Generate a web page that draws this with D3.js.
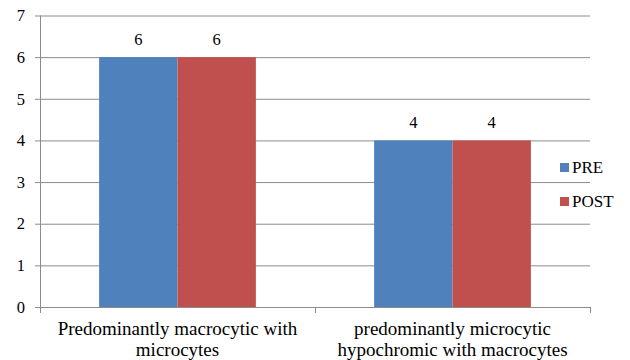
<!DOCTYPE html>
<html>
<head>
<meta charset="utf-8">
<script src="https://cdn.jsdelivr.net/npm/d3@7"></script>
<style>
  html, body { margin: 0; padding: 0; background: #fff; }
</style>
</head>
<body>
<svg id="chart" width="630" height="360"></svg>
<script>
// Blood picture categories and counts before / after treatment
const categories = [
  ["Predominantly macrocytic with", "microcytes"],
  ["predominantly microcytic", "hypochromic with macrocytes"]
];
const seriesNames = ["PRE", "POST"];
const preValues = [6, 4];
const postValues = [6, 4];
const yTicks = [0, 1, 2, 3, 4, 5, 6, 7];

const colors = ["#4F81BD", "#C0504D"];
const seriesValues = [preValues, postValues];
const FONT = "Liberation Serif";

const svg = d3.select("#chart");
const margin = { left: 40, top: 15.5 };
const plotRight = 590;
const plotBottom = 307;

const x0 = d3.scaleBand()
  .domain(d3.range(categories.length))
  .range([margin.left, plotRight])
  .paddingInner(0.43)
  .paddingOuter(0.215);

const x1 = d3.scaleBand()
  .domain(d3.range(seriesNames.length))
  .range([0, x0.bandwidth()])
  .padding(0);

const y = d3.scaleLinear().domain([0, 7]).range([plotBottom, margin.top]);

const gridColor = "#8c8c8c";

// horizontal gridlines with short outer ticks
const grid = svg.append("g")
  .attr("transform", `translate(${margin.left},0)`)
  .call(d3.axisLeft(y).tickValues(yTicks).tickSize(-(plotRight - margin.left)).tickSizeOuter(0).tickFormat(d3.format("d")));
grid.attr("font-family", FONT).attr("font-size", 16.5);
grid.select(".domain").remove();
grid.selectAll(".tick line").attr("stroke", gridColor).attr("x1", -5);
grid.selectAll(".tick text")
  .attr("fill", "#000")
  .attr("font-family", FONT)
  .attr("font-size", 16.5)
  .attr("x", -15);

// vertical axis line
svg.append("line")
  .attr("x1", margin.left + 0.5).attr("x2", margin.left + 0.5)
  .attr("y1", y(7)).attr("y2", plotBottom + 5)
  .attr("stroke", gridColor);

// bars
const groups = svg.append("g").selectAll("g")
  .data(categories)
  .join("g")
  .attr("transform", (d, i) => `translate(${x0(i)},0)`);

groups.selectAll("rect")
  .data((d, i) => seriesValues.map((vals, s) => ({ s, v: vals[i] })))
  .join("rect")
  .attr("x", d => x1(d.s))
  .attr("width", x1.bandwidth())
  .attr("y", d => y(d.v))
  .attr("height", d => y(0) - y(d.v))
  .attr("fill", d => colors[d.s]);

groups.selectAll("text.val")
  .data((d, i) => seriesValues.map((vals, s) => ({ s, v: vals[i] })))
  .join("text")
  .attr("class", "val")
  .attr("x", d => x1(d.s) + x1.bandwidth() / 2)
  .attr("y", d => y(d.v) - 12)
  .attr("text-anchor", "middle")
  .attr("font-family", FONT)
  .attr("font-size", 16.5)
  .text(d => d.v);

// category axis
svg.append("line")
  .attr("x1", margin.left).attr("x2", plotRight)
  .attr("y1", plotBottom + 0.5).attr("y2", plotBottom + 0.5)
  .attr("stroke", gridColor);

const catEdges = [margin.left, (margin.left + plotRight) / 2, plotRight];
svg.append("g").selectAll("line")
  .data(catEdges)
  .join("line")
  .attr("x1", d => Math.round(d) + 0.5).attr("x2", d => Math.round(d) + 0.5)
  .attr("y1", plotBottom).attr("y2", plotBottom + 6)
  .attr("stroke", gridColor);

const catLabels = svg.append("g").selectAll("text")
  .data(categories)
  .join("text")
  .attr("text-anchor", "middle")
  .attr("font-family", FONT)
  .attr("font-size", 19)
  .attr("transform", (d, i) => `translate(${x0(i) + x0.bandwidth() / 2},0)`);
catLabels.selectAll("tspan")
  .data(d => d)
  .join("tspan")
  .attr("x", 0)
  .attr("y", (d, j) => 335 + j * 21)
  .text(d => d);

// legend
const legend = svg.append("g").selectAll("g")
  .data(seriesNames)
  .join("g")
  .attr("transform", (d, i) => `translate(560,${163 + i * 34})`);
legend.append("rect")
  .attr("width", 9).attr("height", 9)
  .attr("fill", (d, i) => colors[i]);
legend.append("text")
  .attr("x", 12).attr("y", 10)
  .attr("font-family", FONT)
  .attr("font-size", 17)
  .text(d => d);
</script>
</body>
</html>
